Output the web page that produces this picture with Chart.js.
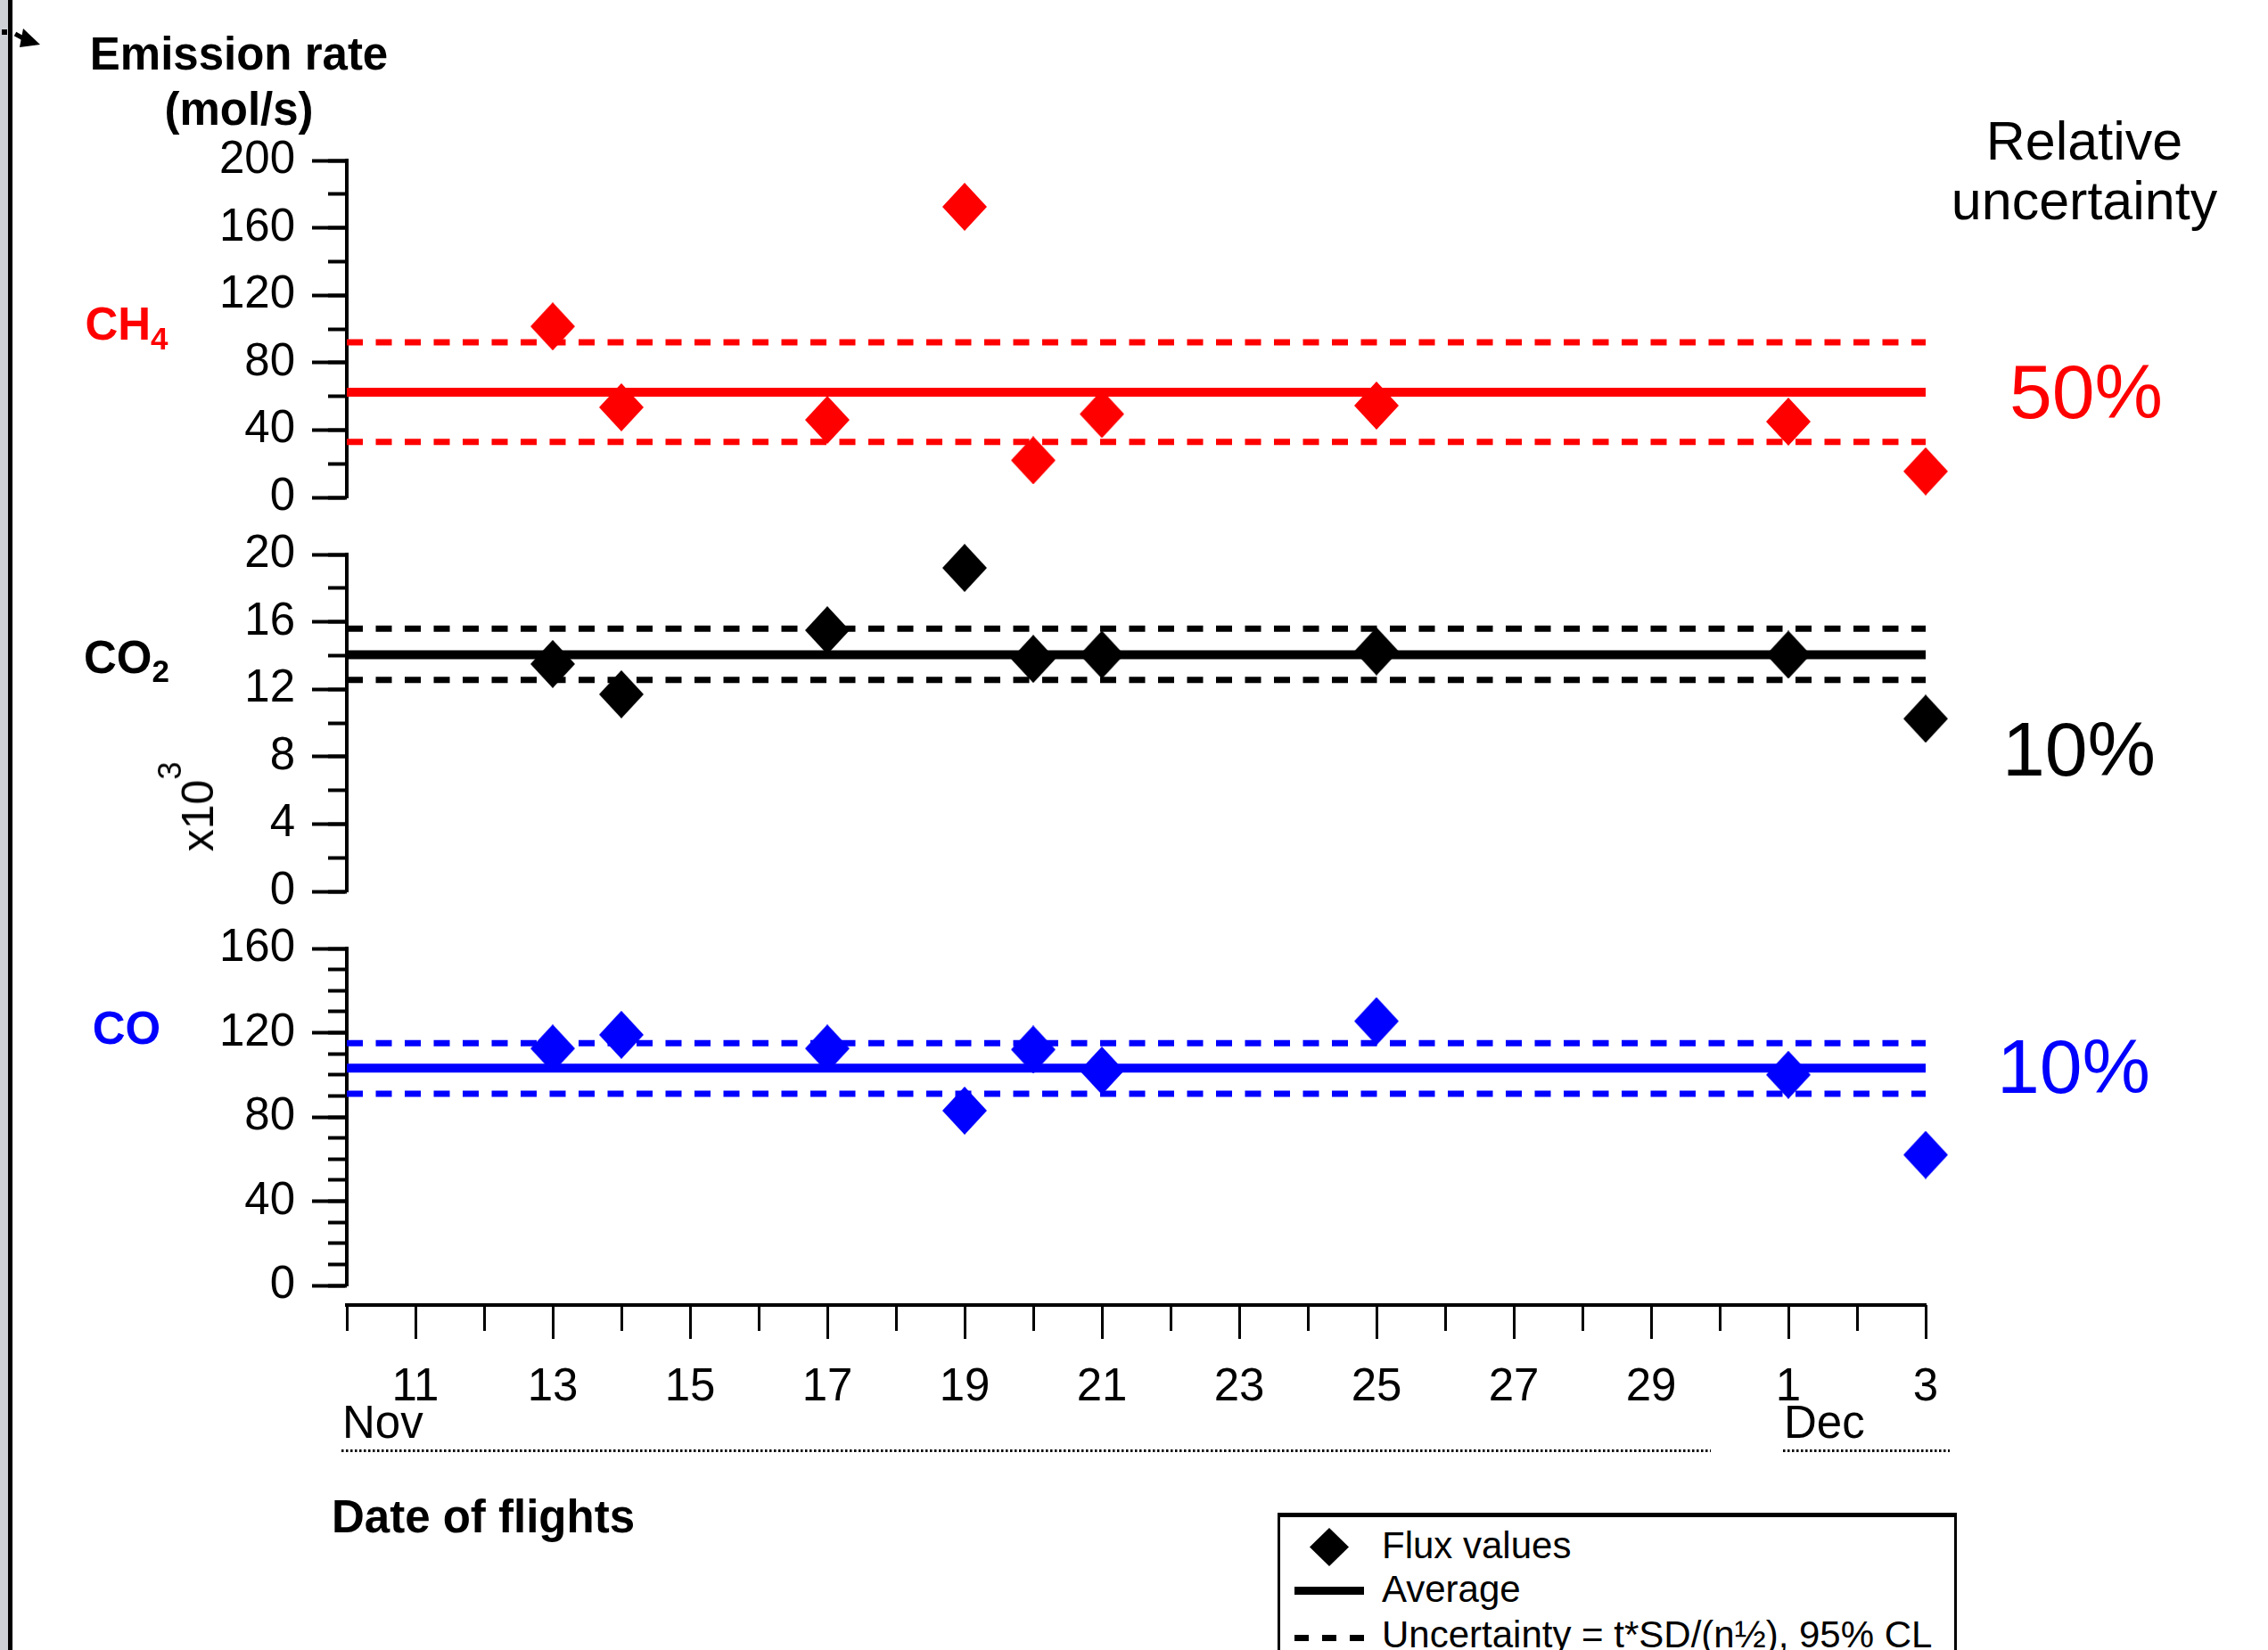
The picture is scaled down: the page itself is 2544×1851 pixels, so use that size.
<!DOCTYPE html>
<html>
<head>
<meta charset="utf-8">
<script src="https://cdn.jsdelivr.net/npm/chart.js@4.4.0/dist/chart.umd.min.js"></script>
<style>
  html, body { margin: 0; padding: 0; background: #fff; }
  body { width: 2544px; height: 1851px; overflow: hidden; position: relative;
         font-family: 'Liberation Sans', Arial, sans-serif; color: #000; }
  canvas { position: absolute; left: 0; }
  .t { position: absolute; white-space: nowrap; }
  .c { transform: translateX(-50%); }
  .sub { position: relative; line-height: 0; }
</style>
</head>
<body>
<!-- left page border -->
<div style="position:absolute;left:0;top:0;width:9px;height:1851px;background:#cdd1d6;"></div>
<div style="position:absolute;left:9px;top:0;width:5px;height:1851px;background:#000;"></div>
<svg style="position:absolute;left:0;top:28px;" width="50" height="30">
  <rect x="2" y="5" width="6" height="6" fill="#000"/>
  <line x1="17" y1="10" x2="26" y2="15" stroke="#000" stroke-width="5"/>
  <polygon points="26,4 45,22 22,25" fill="#000"/>
</svg>

<canvas id="ch4" width="2544" height="498" style="top:120px"></canvas>
<canvas id="co2" width="2544" height="498" style="top:562px"></canvas>
<canvas id="co" width="2544" height="498" style="top:1004px"></canvas>
<canvas id="xaxis" width="2544" height="273" style="top:1400px"></canvas>

<!-- axis titles and panel labels -->
<div class="t c" style="left:268px;top:35px;font-size:51px;line-height:51px;font-weight:bold;">Emission rate</div>
<div class="t c" style="left:268px;top:97px;font-size:51px;line-height:51px;font-weight:bold;">(mol/s)</div>

<div class="t c" style="left:142px;top:338px;font-size:51px;line-height:51px;font-weight:bold;color:#ff0000;">CH<span class="sub" style="font-size:35px;top:11px;">4</span></div>
<div class="t c" style="left:142px;top:712px;font-size:51px;line-height:51px;font-weight:bold;color:#000;">CO<span class="sub" style="font-size:35px;top:10px;">2</span></div>
<div class="t c" style="left:142px;top:1128px;font-size:51px;line-height:51px;font-weight:bold;color:#0000ff;">CO</div>

<div class="t" style="left:222px;top:905px;font-size:50px;line-height:50px;transform:translate(-50%,-50%) rotate(-90deg);">x10<span class="sub" style="font-size:36px;top:-36px;">3</span></div>

<div class="t c" style="left:2338px;top:128px;font-size:61px;line-height:61px;">Relative</div>
<div class="t c" style="left:2338px;top:195px;font-size:61px;line-height:61px;">uncertainty</div>

<div id="unc0" class="t c" style="left:2340px;top:396px;font-size:86px;line-height:86px;color:#ff0000;"></div>
<div id="unc1" class="t c" style="left:2332px;top:797px;font-size:86px;line-height:86px;color:#000;"></div>
<div id="unc2" class="t c" style="left:2326px;top:1153px;font-size:86px;line-height:86px;color:#0000ff;"></div>

<div class="t" style="left:372px;top:1676px;font-size:51px;line-height:51px;font-weight:bold;">Date of flights</div>

<!-- legend -->
<div style="position:absolute;left:1433px;top:1697px;width:756px;height:200px;border-top:5px solid #000;border-left:3px solid #000;border-right:3px solid #000;"></div>
<div style="position:absolute;left:1469px;top:1714px;width:44px;height:43px;background:#000;clip-path:polygon(50% 0,100% 50%,50% 100%,0 50%);"></div>
<div style="position:absolute;left:1452px;top:1780px;width:78px;height:9px;background:#000;"></div>
<div style="position:absolute;left:1452px;top:1834px;width:80px;height:7px;background:repeating-linear-gradient(to right,#000 0 16px,transparent 16px 31px);"></div>
<div class="t" style="left:1550px;top:1713px;font-size:42px;line-height:42px;">Flux values</div>
<div class="t" style="left:1550px;top:1762px;font-size:42px;line-height:42px;">Average</div>
<div class="t" style="left:1550px;top:1813px;font-size:42px;line-height:42px;">Uncertainty = t*SD/(n½), 95% CL</div>

<script>
// ---------------- data ----------------
// day number counted from 1 Nov (31 = 1 Dec, 33 = 3 Dec)
const flightDays = [13, 14, 17, 19, 20, 21, 25, 31, 33];
const ch4Flux = [101.5, 53.5, 46, 172.5, 22, 49.5, 54.5, 45, 15.5];
const co2Flux = [13.5, 11.7, 15.5, 19.2, 13.8, 14.05, 14.25, 14.05, 10.25]; // x10^3 mol/s
const coFlux  = [112.5, 119, 112.5, 83, 112, 102, 125.5, 100, 62];
// [lower uncertainty, average, upper uncertainty]
const ch4Stats = [33, 62.5, 92];
const co2Stats = [12.55, 14.05, 15.6];
const coStats  = [91, 103.2, 115];
const relUncertainty = ['50%', '10%', '10%'];
// x axis
const axisDays = [10, 33];
const dayTicks = [10, 11, 12, 13, 14, 15, 16, 17, 18, 19, 20, 21, 22, 23, 24, 25, 26, 27, 28, 29, 30, 31, 32, 33];
const dayTickLabels = ['', '11', '', '13', '', '15', '', '17', '', '19', '', '21', '', '23', '', '25', '', '27', '', '29', '', '1', '', '3'];
const months = ['Nov', 'Dec'];
const monthStartDays = [10, 31];
const monthBarEndDays = [29.87, 33.35];
// y axes
const ch4Ticks = [0, 40, 80, 120, 160, 200];
const ch4MinorTicks = [0, 20, 40, 60, 80, 100, 120, 140, 160, 180, 200];
const co2Ticks = [0, 4, 8, 12, 16, 20];
const co2MinorTicks = [0, 2, 4, 6, 8, 10, 12, 14, 16, 18, 20];
const coTicks = [0, 40, 80, 120, 160];
const coMinorTicks = [0, 10, 20, 30, 40, 50, 60, 70, 80, 90, 100, 110, 120, 130, 140, 150, 160];

// ---------------- drawing ----------------
Chart.defaults.font.family = "'Liberation Sans', Arial, sans-serif";
Chart.defaults.color = '#000';

relUncertainty.forEach((t, i) => { document.getElementById('unc' + i).textContent = t; });

function diamond(color, w, h) {
  const c = document.createElement('canvas');
  c.width = w; c.height = h;
  const g = c.getContext('2d');
  g.fillStyle = color;
  g.beginPath();
  g.moveTo(w / 2, 0); g.lineTo(w, h / 2); g.lineTo(w / 2, h); g.lineTo(0, h / 2);
  g.closePath(); g.fill();
  return c;
}

function makePanel(id, color, flux, stats, major, minor) {
  const hline = (v, width, dash) => ({
    data: axisDays.map(d => ({ x: d, y: v })),
    borderColor: color, borderWidth: width, borderDash: dash, borderCapStyle: 'butt',
    pointRadius: 0, fill: false, clip: false, order: 1, tension: 0
  });
  new Chart(document.getElementById(id), {
    type: 'line',
    data: {
      datasets: [
        { data: flightDays.map((d, i) => ({ x: d, y: flux[i] })), showLine: false,
          pointStyle: diamond(color, 50, 54), pointRadius: 26, clip: false, order: 0 },
        hline(stats[1], 10, []),
        hline(stats[2], 7, [18, 14.5]),
        hline(stats[0], 7, [18, 14.5])
      ]
    },
    options: {
      responsive: false, animation: false, devicePixelRatio: 1, events: [],
      layout: { autoPadding: false, padding: { left: 0, right: 384, top: 60, bottom: 60 } },
      plugins: { legend: { display: false }, tooltip: { enabled: false } },
      scales: {
        x: { type: 'linear', min: axisDays[0], max: axisDays[1], display: false },
        y: {
          type: 'linear', position: 'left', weight: 2,
          min: major[0], max: major[major.length - 1],
          afterBuildTicks: s => { s.ticks = major.map(v => ({ value: v })); },
          afterFit: s => { s.width = 389; },
          ticks: { font: { size: 51 }, color: '#000', padding: 19, autoSkip: false },
          grid: { drawOnChartArea: false, tickLength: 39, tickWidth: 4, tickColor: '#000' },
          border: { display: true, width: 4, color: '#000' }
        },
        yMinor: {
          type: 'linear', position: 'left', weight: 1,
          min: minor[0], max: minor[minor.length - 1],
          afterBuildTicks: s => { s.ticks = minor.map(v => ({ value: v })); },
          afterFit: s => { s.width = 0; },
          ticks: { display: false },
          grid: { drawOnChartArea: false, tickLength: 21, tickWidth: 4, tickColor: '#000' },
          border: { display: false }
        }
      }
    }
  });
}

makePanel('ch4', '#ff0000', ch4Flux, ch4Stats, ch4Ticks, ch4MinorTicks);
makePanel('co2', '#000000', co2Flux, co2Stats, co2Ticks, co2MinorTicks);
makePanel('co', '#0000ff', coFlux, coStats, coTicks, coMinorTicks);

const monthPlugin = {
  id: 'monthLabels',
  afterDraw(chart) {
    const sx = chart.scales.x, ctx = chart.ctx;
    ctx.save();
    ctx.fillStyle = '#000';
    ctx.strokeStyle = '#000';
    ctx.font = "51px 'Liberation Sans', Arial, sans-serif";
    ctx.textAlign = 'left';
    ctx.textBaseline = 'alphabetic';
    months.forEach((m, i) => {
      const x0 = sx.getPixelForValue(monthStartDays[i]);
      const x1 = sx.getPixelForValue(monthBarEndDays[i]);
      ctx.fillText(m, x0 - 5, 213);
      ctx.lineWidth = 3;
      ctx.setLineDash([2.5, 2.5]);
      ctx.beginPath();
      ctx.moveTo(x0 - 6, 227.5);
      ctx.lineTo(x1, 227.5);
      ctx.stroke();
    });
    ctx.restore();
  }
};

new Chart(document.getElementById('xaxis'), {
  type: 'line',
  data: { datasets: [] },
  options: {
    responsive: false, animation: false, devicePixelRatio: 1, events: [],
    layout: { autoPadding: false, padding: { left: 389, right: 384, top: 64, bottom: 0 } },
    plugins: { legend: { display: false }, tooltip: { enabled: false } },
    scales: {
      x: {
        type: 'linear', position: 'bottom', min: axisDays[0], max: axisDays[1],
        afterBuildTicks: s => { s.ticks = dayTicks.map(v => ({ value: v })); },
        afterFit: s => { s.height = 180; },
        ticks: { autoSkip: false, maxRotation: 0, minRotation: 0, font: { size: 51 }, color: '#000', padding: 24,
                 callback: (v, i) => dayTickLabels[i] },
        grid: { drawOnChartArea: true, color: '#000', lineWidth: 3, tickLength: 9, tickWidth: 3,
                tickColor: c => (dayTickLabels[c.index] ? '#000' : 'rgba(0,0,0,0)') },
        border: { display: false }
      },
      xTop: {
        type: 'linear', position: 'top', min: axisDays[0], max: axisDays[1],
        ticks: { display: false },
        grid: { display: false, drawTicks: false },
        border: { display: true, width: 4, color: '#000' },
        afterFit: s => { s.height = 0; }
      },
      y: { display: false }
    }
  },
  plugins: [monthPlugin]
});
</script>
</body>
</html>
